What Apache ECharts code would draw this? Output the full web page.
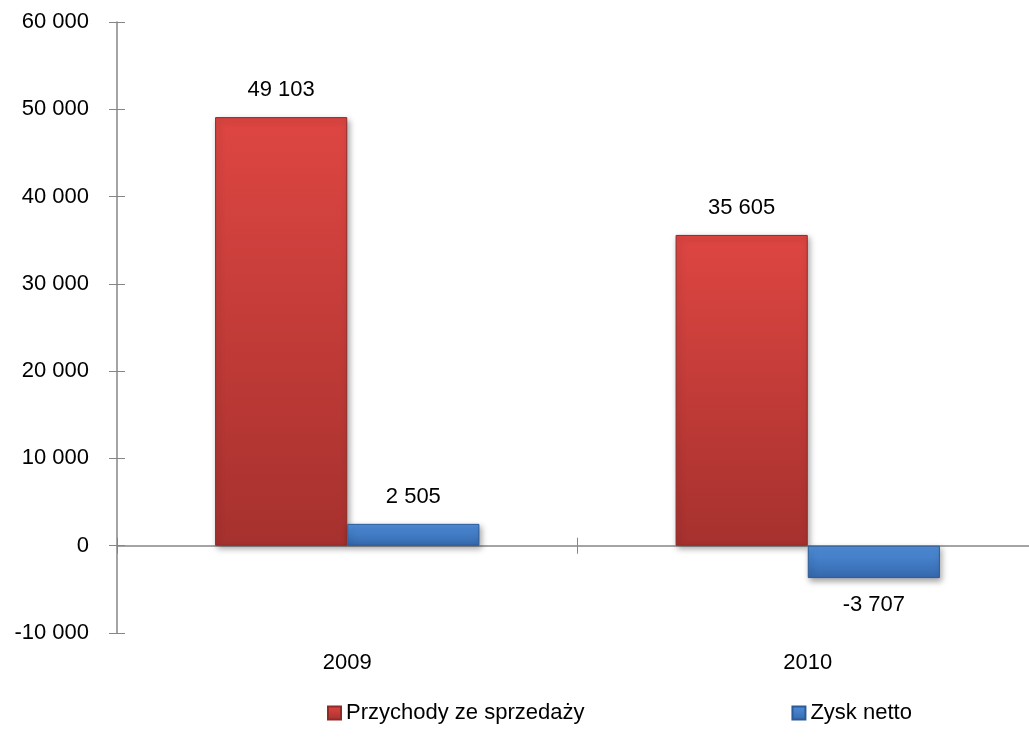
<!DOCTYPE html>
<html><head><meta charset="utf-8">
<script src="https://cdn.jsdelivr.net/npm/echarts@6/dist/echarts.min.js"></script>
<style>html,body{margin:0;padding:0;background:#fff}#c{width:1029px;height:751px}</style>
</head><body><div id="c"></div>
<script>
const categories = ['2009', '2010'];
const revenue = [49103, 35605];
const netProfit = [2505, -3707];
const seriesNames = ['Przychody ze sprzedaży', 'Zysk netto'];
const yTicks = { min: -10000, max: 60000, interval: 10000 };

const FONT = 'Liberation Sans, Arial, sans-serif';
const fmt = v => {
  const s = Math.abs(v).toString().replace(/\B(?=(\d{3})+(?!\d))/g, ' ');
  return (v < 0 ? '-' : '') + s;
};
const chart = echarts.init(document.getElementById('c'));
const grid = { left: 117, top: 22, width: 921, bottom: 118, outerBoundsMode: 'none', containLabel: false };
const axisGray = '#868686';
function barSeries(name, data, c1, c2, border) {
  return {
    name, type: 'bar', data, xAxisIndex: 0, yAxisIndex: 0,
    barGap: '0%', barCategoryGap: '42.6%',
    itemStyle: {
      color: new echarts.graphic.LinearGradient(0, 0, 0, 1, [
        { offset: 0, color: c1 }, { offset: 1, color: c2 }]),
      borderColor: border, borderWidth: 1,
      shadowColor: 'rgba(0,0,0,0.35)', shadowBlur: 6, shadowOffsetX: 2, shadowOffsetY: 3
    },
    label: { show: true, position: 'outside', distance: 16, color: '#000',
      fontFamily: FONT, fontSize: 22, formatter: p => fmt(p.value) }
  };
}
chart.setOption({
  animation: false,
  backgroundColor: '#fff',
  grid,
  legend: {
    bottom: 22, left: 322, itemGap: 207, itemWidth: 13, itemHeight: 13,
    icon: 'rect', textStyle: { fontFamily: FONT, fontSize: 22, color: '#000' },
    data: seriesNames
  },
  xAxis: [
    { type: 'category', data: categories, position: 'bottom',
      axisLine: { show: false, onZero: false }, axisTick: { show: false },
      axisLabel: { margin: 19, fontFamily: FONT, fontSize: 22, color: '#000' } },
    { type: 'category', data: categories, position: 'bottom',
      axisLine: { show: true, onZero: true, onZeroAxisIndex: 0, lineStyle: { color: axisGray, width: 1.5 } },
      axisTick: { show: true, length: 8, lineStyle: { color: axisGray } }, axisLabel: { show: false } },
    { type: 'category', data: categories, position: 'top',
      axisLine: { show: false, onZero: true, onZeroAxisIndex: 0 },
      axisTick: { show: true, length: 8, lineStyle: { color: axisGray } }, axisLabel: { show: false } }
  ],
  yAxis: [
    { type: 'value', min: yTicks.min, max: yTicks.max, interval: yTicks.interval, position: 'left',
      axisLine: { show: true, lineStyle: { color: axisGray, width: 1.5 } },
      axisTick: { show: true, length: 8, lineStyle: { color: axisGray } },
      splitLine: { show: false },
      axisLabel: { margin: 28, fontFamily: FONT, fontSize: 22, color: '#000', formatter: fmt } },
    { type: 'value', min: yTicks.min, max: yTicks.max, interval: yTicks.interval, position: 'left',
      axisLine: { show: false }, axisTick: { show: true, inside: true, length: 8, lineStyle: { color: axisGray } },
      splitLine: { show: false }, axisLabel: { show: false } }
  ],
  series: [
    barSeries(seriesNames[0], revenue, '#de4642', '#a6312e', '#8f2a27'),
    barSeries(seriesNames[1], netProfit, '#4f8fdb', '#3568ad', '#2c5a96')
  ]
});
</script></body></html>
